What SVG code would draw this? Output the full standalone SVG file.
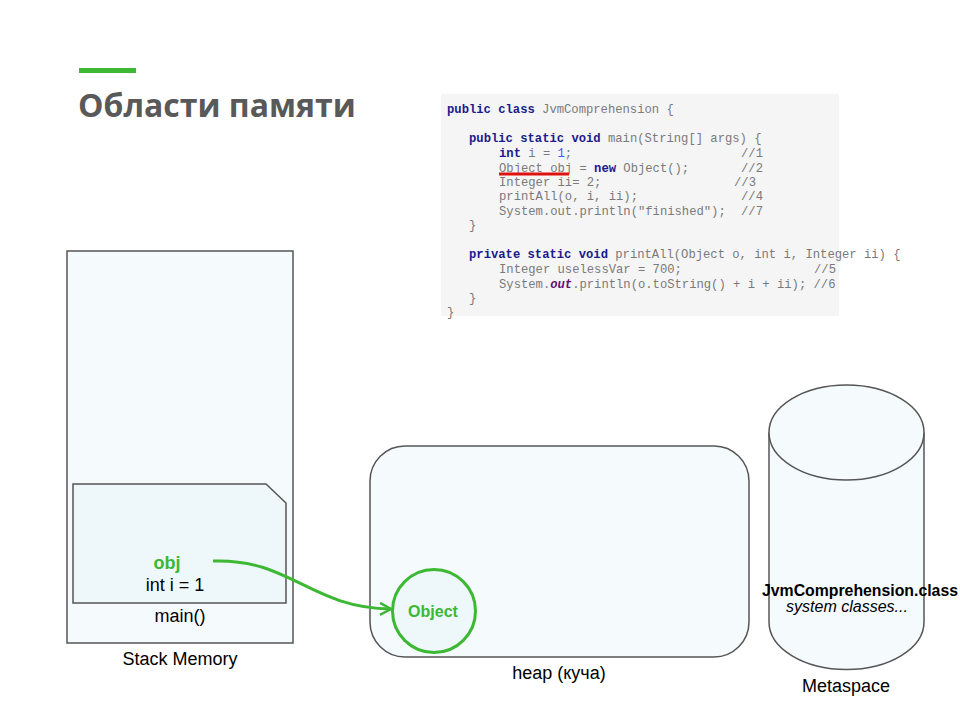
<svg xmlns="http://www.w3.org/2000/svg" width="960" height="720" viewBox="0 0 960 720">
<defs>
<style>
.lbl{font-family:"Liberation Sans",Arial,sans-serif;font-size:18px;fill:#000;text-anchor:middle}
.sm{font-size:16px}
.code{font-family:"Liberation Mono","Courier New",monospace;font-size:12.2px;fill:#7a7a7a;white-space:pre}
.kw{fill:#1a1a8c;font-weight:bold}
.num{fill:#3b5bff}
.box{fill:#f5fbfd;stroke:#555;stroke-width:1.5}
.green{fill:#3cb832}
</style>
<marker id="arr" viewBox="0 0 14 14" refX="12" refY="7" markerWidth="14" markerHeight="14" markerUnits="userSpaceOnUse" orient="auto">
<path d="M1 1 L12 7 L1 13" fill="none" stroke="#3cb832" stroke-width="2.5"/>
</marker>
</defs>
<rect width="960" height="720" fill="#fff"/>
<g id="title">
<rect x="79" y="68" width="57" height="5" fill="#3cb832"/>
<text x="78" y="117" font-family="'Open Sans','Noto Sans',sans-serif" font-size="32" font-weight="bold" fill="#595959">Области памяти</text>
</g>
<g id="code">
<rect x="441" y="94" width="398" height="222" fill="#f5f5f5"/>
<text class="code" x="447" y="113"><tspan class="kw">public class</tspan> JvmComprehension {</text>
<text class="code" x="469" y="142"><tspan class="kw">public static void</tspan> main(String[] args) {</text>
<text class="code" x="499" y="157"><tspan class="kw">int</tspan> i = <tspan class="num">1</tspan>;</text>
<text class="code" x="741" y="157">//1</text>
<text class="code" x="499" y="172">Object obj = <tspan class="kw">new</tspan> Object();</text>
<text class="code" x="741" y="172">//2</text>
<text class="code" x="499" y="186">Integer ii= 2;</text>
<text class="code" x="734" y="186">//3</text>
<text class="code" x="499" y="200">printAll(o, i, ii);</text>
<text class="code" x="741" y="200">//4</text>
<text class="code" x="499" y="215">System.out.println("finished");</text>
<text class="code" x="741" y="215">//7</text>
<text class="code" x="469" y="229">}</text>
<text class="code" x="469" y="258"><tspan class="kw">private static void</tspan> printAll(Object o, int i, Integer ii) {</text>
<text class="code" x="499" y="273">Integer uselessVar = 700;</text>
<text class="code" x="814" y="273">//5</text>
<text class="code" x="499" y="288">System.<tspan fill="#660e7a" font-weight="bold" font-style="italic">out</tspan>.println(o.toString() + i + ii); //6</text>
<text class="code" x="469" y="302">}</text>
<text class="code" x="447" y="316">}</text>
<rect x="499" y="172.5" width="70" height="3" fill="#e01010"/>
</g>
<g id="stack">
<rect class="box" x="67" y="251" width="226" height="392"/>
<text class="lbl" x="180" y="665">Stack Memory</text>
</g>
<g id="main-frame">
<path d="M73 484 H266 L286 503 V603 H73 Z" fill="#eef7fa" stroke="#555" stroke-width="1.5"/>
<text class="lbl" x="180" y="622">main()</text>
<text class="lbl green" x="167" y="569" font-weight="bold">obj</text>
<text class="lbl" x="175" y="591">int i = 1</text>
</g>
<g id="heap">
<rect class="box" x="370" y="446" width="379" height="211" rx="35" ry="35"/>
<text class="lbl" x="559" y="679">heap (куча)</text>
</g>
<g id="object">
<circle cx="434" cy="611" r="41.5" fill="#eef7fa" stroke="#3cb832" stroke-width="3"/>
<text class="lbl sm green" x="433" y="617" font-weight="bold">Object</text>
</g>
<g id="metaspace">
<path d="M769 432.5 V622 A77.5 47.5 0 0 0 924 622 V432.5" fill="#f5fbfd" stroke="#555" stroke-width="1.5"/>
<ellipse cx="846.5" cy="432.5" rx="77.5" ry="47.5" fill="#f5fbfd" stroke="#555" stroke-width="1.5"/>
<text class="lbl sm" x="860" y="596" font-weight="bold" textLength="196" lengthAdjust="spacingAndGlyphs">JvmComprehension.class</text>
<text class="lbl sm" x="847" y="612" font-style="italic">system classes...</text>
<text class="lbl" x="846" y="692">Metaspace</text>
</g>
<g id="connectors">
<path d="M213 561 C290 558, 310 608, 391 609" fill="none" stroke="#3cb832" stroke-width="3" marker-end="url(#arr)"/>
</g>
</svg>
